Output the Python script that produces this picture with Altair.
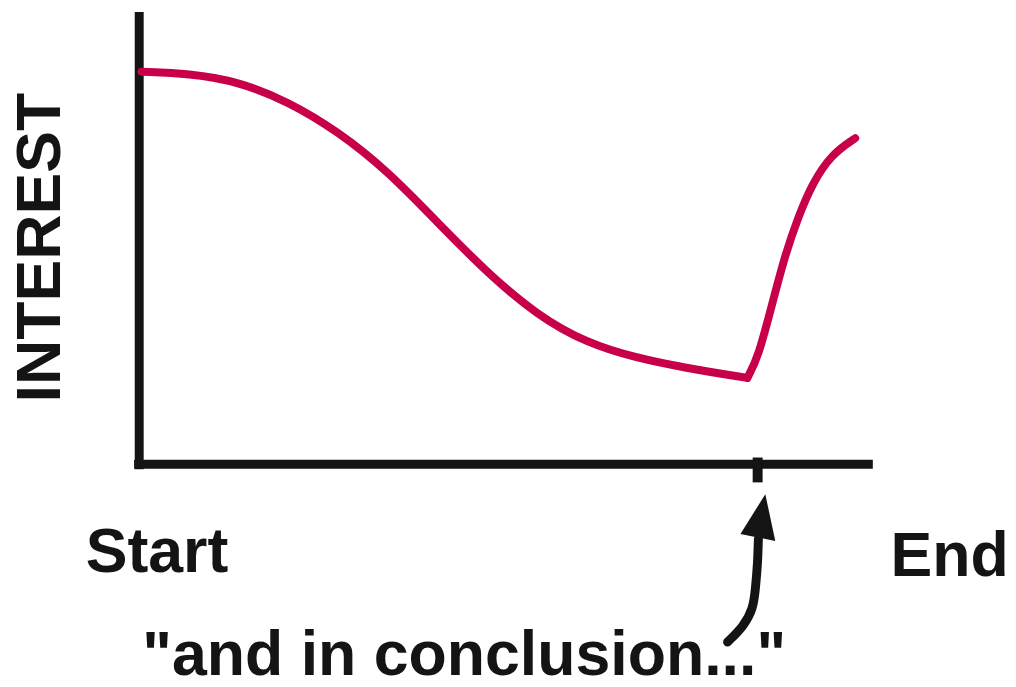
import altair as alt
import pandas as pd

# Interest curve (time 0..100, interest 0..100), falling part then rising part
fall_time = [0.3, 6.8, 13.6, 20.3, 27.1, 33.9, 40.7, 47.4, 54.2, 61.0, 67.8, 74.5, 82.9]
fall_interest = [86.8, 86.4, 84.6, 80.2, 73.6, 64.8, 53.4, 42.4, 33.0, 26.8, 23.5, 21.3, 19.1]
rise_time = [82.9, 84.4, 86.3, 88.1, 89.8, 91.7, 94.4, 97.6]
rise_interest = [19.1, 23.7, 35.6, 46.6, 54.5, 62.0, 68.6, 72.1]

# Axis frame
axis_x0 = [0.0, -0.7]
axis_x1 = [0.0, 100.0]
axis_y0 = [-1.1, 0.0]
axis_y1 = [100.0, 0.0]

# Conclusion tick
tick_x = [84.3]
tick_y0 = [1.5]
tick_y1 = [-4.0]

# Arrow shaft
arrow_x = [80.2, 82.4, 83.7, 84.0, 84.3, 84.4]
arrow_y = [-39.3, -35.8, -31.9, -27.5, -22.0, -16.5]
head_x = [84.4]
head_y = [-12.1]

# Labels
label_text = ["Start", "End"]
label_x = [-7.3, 102.4]
label_y = [-23.8, -24.8]
quote_text = ['"and in conclusion..."']
quote_x = [44.3]
quote_y = [-46.6]
ytitle_text = ["INTEREST"]
ytitle_x = [-13.4]
ytitle_y = [47.9]

W, H = 1006, 679
xs = alt.Scale(domain=[0, 100], range=[132, 870], nice=False, zero=False)
ys = alt.Scale(domain=[0, 100], range=[457, 2], nice=False, zero=False)

INK = "#141414"
RED = "#C8004A"
FONT = "Liberation Sans"
FS = 63

curve_df = pd.DataFrame({
    "t": fall_time + rise_time,
    "v": fall_interest + rise_interest,
    "seg": ["fall"] * len(fall_time) + ["rise"] * len(rise_time),
    "o": list(range(len(fall_time))) + list(range(len(rise_time))),
})
axis_df = pd.DataFrame({"x": axis_x0, "x2": axis_x1, "y": axis_y0, "y2": axis_y1})
tick_df = pd.DataFrame({"x": tick_x, "y": tick_y0, "y2": tick_y1})
arrow_df = pd.DataFrame({"x": arrow_x, "y": arrow_y, "o": list(range(len(arrow_x)))})
head_df = pd.DataFrame({"x": head_x, "y": head_y})
label_df = pd.DataFrame({"x": label_x, "y": label_y, "text": label_text})
quote_df = pd.DataFrame({"x": quote_x, "y": quote_y, "text": quote_text})
ytitle_df = pd.DataFrame({"x": ytitle_x, "y": ytitle_y, "text": ytitle_text})

axes = alt.Chart(axis_df).mark_rule(color=INK, strokeWidth=9, strokeCap="butt").encode(
    x=alt.X("x:Q", scale=xs, axis=None), x2="x2:Q",
    y=alt.Y("y:Q", scale=ys, axis=None), y2="y2:Q")

tick = alt.Chart(tick_df).mark_rule(color=INK, strokeWidth=10, strokeCap="butt").encode(
    x=alt.X("x:Q", scale=xs, axis=None),
    y=alt.Y("y:Q", scale=ys, axis=None), y2="y2:Q")

curve = alt.Chart(curve_df).mark_line(color=RED, strokeWidth=8, strokeCap="round",
                                      strokeJoin="round", interpolate="basis").encode(
    x=alt.X("t:Q", scale=xs, axis=None),
    y=alt.Y("v:Q", scale=ys, axis=None),
    detail="seg:N",
    order="o:Q")

shaft = alt.Chart(arrow_df).mark_line(color=INK, strokeWidth=9, strokeCap="round",
                                      interpolate="basis").encode(
    x=alt.X("x:Q", scale=xs, axis=None),
    y=alt.Y("y:Q", scale=ys, axis=None),
    order="o:Q")

head = alt.Chart(head_df).mark_point(
    shape="M0.28,-1L0.68,0.88L-0.72,0.6Z", size=2500, filled=True, color=INK, opacity=1,
    strokeWidth=0).encode(
    x=alt.X("x:Q", scale=xs, axis=None),
    y=alt.Y("y:Q", scale=ys, axis=None))

labels = alt.Chart(label_df).mark_text(font=FONT, fontWeight="bold", fontSize=FS, color=INK,
                                        align="left", baseline="alphabetic").encode(
    x=alt.X("x:Q", scale=xs, axis=None),
    y=alt.Y("y:Q", scale=ys, axis=None),
    text="text:N")

quote = alt.Chart(quote_df).mark_text(font=FONT, fontWeight="bold", fontSize=FS, color=INK,
                                       align="center", baseline="alphabetic").encode(
    x=alt.X("x:Q", scale=xs, axis=None),
    y=alt.Y("y:Q", scale=ys, axis=None),
    text="text:N")

ytitle = alt.Chart(ytitle_df).mark_text(font=FONT, fontWeight="bold", fontSize=FS, color=INK,
                                         align="center", baseline="middle", angle=270).encode(
    x=alt.X("x:Q", scale=xs, axis=None),
    y=alt.Y("y:Q", scale=ys, axis=None),
    text="text:N")

chart = alt.layer(axes, tick, curve, shaft, head, labels, quote, ytitle).properties(
    width=W, height=H, padding=0, autosize=alt.AutoSizeParams(type="none"),
    background="white"
).configure_view(stroke=None)

chart.save("out.html", embed_options={"renderer": "svg", "actions": False})
